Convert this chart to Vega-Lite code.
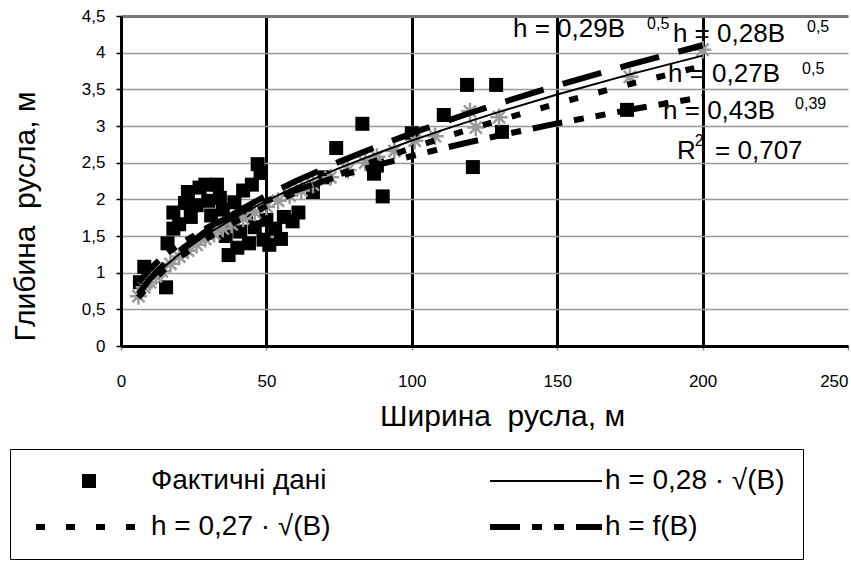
{
  "$schema": "https://vega.github.io/schema/vega-lite/v6.json",
  "width": 727,
  "height": 330,
  "autosize": {"type": "none"},
  "padding": {"left": 121, "top": 16, "right": 3, "bottom": 228},
  "background": "white",
  "config": {"font": "Liberation Sans", "view": {"stroke": null}},
  "datasets": {
    "keys": [
      {"series": "Фактичні дані"}, {"series": "h = 0,28 · √(B)"}, {"series": "h = 0,27 · √(B)"}, {"series": "h = f(B)"}
    ],
    "fact": [
      {"B": 6.5, "h": 0.87}, {"B": 8, "h": 1.08}, {"B": 11, "h": 1.0}, {"B": 15.5, "h": 0.8}, {"B": 16, "h": 1.4},
      {"B": 18, "h": 1.6}, {"B": 18, "h": 1.82}, {"B": 20, "h": 1.66}, {"B": 22, "h": 1.95}, {"B": 23, "h": 2.1},
      {"B": 24, "h": 1.76}, {"B": 26, "h": 1.92}, {"B": 27, "h": 2.16}, {"B": 29, "h": 2.2}, {"B": 30, "h": 1.98},
      {"B": 31, "h": 1.78}, {"B": 33, "h": 2.2}, {"B": 34, "h": 2.02}, {"B": 35, "h": 1.86}, {"B": 36, "h": 1.5},
      {"B": 37, "h": 1.24}, {"B": 38, "h": 1.7}, {"B": 39, "h": 1.96}, {"B": 40, "h": 1.34}, {"B": 41, "h": 1.56},
      {"B": 42, "h": 2.12}, {"B": 43, "h": 1.82}, {"B": 44, "h": 1.4}, {"B": 45, "h": 2.2}, {"B": 46, "h": 1.62},
      {"B": 47, "h": 2.48}, {"B": 48, "h": 2.36}, {"B": 49, "h": 1.45}, {"B": 50, "h": 1.72}, {"B": 51, "h": 1.38},
      {"B": 53, "h": 1.6}, {"B": 55, "h": 1.46}, {"B": 56, "h": 1.76}, {"B": 59, "h": 1.7}, {"B": 61, "h": 1.82},
      {"B": 66, "h": 2.1}, {"B": 70, "h": 2.3}, {"B": 74, "h": 2.7}, {"B": 83, "h": 3.03}, {"B": 87, "h": 2.35},
      {"B": 88, "h": 2.46}, {"B": 90, "h": 2.04}, {"B": 100, "h": 2.9}, {"B": 111, "h": 3.15}, {"B": 119, "h": 3.56},
      {"B": 121, "h": 2.44}, {"B": 129, "h": 3.56}, {"B": 131, "h": 2.92}, {"B": 174, "h": 3.22}
    ],
    "stars": [
      {"B": 6, "h": 0.68}, {"B": 8, "h": 0.8}, {"B": 10, "h": 0.87}, {"B": 12, "h": 0.95}, {"B": 14, "h": 1.02},
      {"B": 17, "h": 1.12}, {"B": 20, "h": 1.22}, {"B": 23, "h": 1.3}, {"B": 26, "h": 1.38}, {"B": 29, "h": 1.46},
      {"B": 32, "h": 1.53}, {"B": 35, "h": 1.6}, {"B": 38, "h": 1.66}, {"B": 42, "h": 1.74}, {"B": 46, "h": 1.82},
      {"B": 50, "h": 1.9}, {"B": 54, "h": 1.98}, {"B": 58, "h": 2.05}, {"B": 62, "h": 2.12}, {"B": 66, "h": 2.2},
      {"B": 72, "h": 2.3}, {"B": 78, "h": 2.4}, {"B": 84, "h": 2.5}, {"B": 88, "h": 2.58}, {"B": 94, "h": 2.66},
      {"B": 101, "h": 2.8}, {"B": 108, "h": 2.86}, {"B": 120, "h": 3.2}, {"B": 122, "h": 2.98}, {"B": 130, "h": 3.12},
      {"B": 175, "h": 3.67}, {"B": 200, "h": 4.04}
    ],
    "c29": [
      {"B": 6, "h": 0.71}, {"B": 10, "h": 0.917}, {"B": 15, "h": 1.123}, {"B": 20, "h": 1.297}, {"B": 30, "h": 1.588},
      {"B": 40, "h": 1.834}, {"B": 50, "h": 2.051}, {"B": 60, "h": 2.246}, {"B": 75, "h": 2.511}, {"B": 90, "h": 2.751},
      {"B": 100, "h": 2.9}, {"B": 110, "h": 3.042}, {"B": 120, "h": 3.177}, {"B": 130, "h": 3.307}, {"B": 150, "h": 3.552},
      {"B": 175, "h": 3.836}, {"B": 200, "h": 4.101}
    ],
    "c28": [
      {"B": 6, "h": 0.686}, {"B": 10, "h": 0.885}, {"B": 15, "h": 1.084}, {"B": 20, "h": 1.252}, {"B": 30, "h": 1.534},
      {"B": 40, "h": 1.771}, {"B": 50, "h": 1.98}, {"B": 60, "h": 2.169}, {"B": 75, "h": 2.425}, {"B": 90, "h": 2.656},
      {"B": 100, "h": 2.8}, {"B": 110, "h": 2.937}, {"B": 120, "h": 3.067}, {"B": 130, "h": 3.192}, {"B": 150, "h": 3.429},
      {"B": 175, "h": 3.704}, {"B": 200, "h": 3.96}
    ],
    "c27": [
      {"B": 6, "h": 0.661}, {"B": 10, "h": 0.854}, {"B": 15, "h": 1.046}, {"B": 20, "h": 1.207}, {"B": 30, "h": 1.479},
      {"B": 40, "h": 1.708}, {"B": 50, "h": 1.909}, {"B": 60, "h": 2.091}, {"B": 75, "h": 2.338}, {"B": 90, "h": 2.561},
      {"B": 100, "h": 2.7}, {"B": 110, "h": 2.832}, {"B": 120, "h": 2.958}, {"B": 130, "h": 3.078}, {"B": 150, "h": 3.307},
      {"B": 175, "h": 3.572}, {"B": 200, "h": 3.818}
    ],
    "cf": [
      {"B": 6, "h": 0.865}, {"B": 10, "h": 1.056}, {"B": 15, "h": 1.236}, {"B": 20, "h": 1.383}, {"B": 30, "h": 1.62},
      {"B": 40, "h": 1.813}, {"B": 50, "h": 1.978}, {"B": 60, "h": 2.123}, {"B": 75, "h": 2.316}, {"B": 90, "h": 2.487},
      {"B": 100, "h": 2.591}, {"B": 110, "h": 2.689}, {"B": 120, "h": 2.782}, {"B": 130, "h": 2.87}, {"B": 150, "h": 3.035},
      {"B": 175, "h": 3.222}, {"B": 200, "h": 3.394}
    ],
    "ann": [
      {"B": 134.8, "h": 4.32, "label": "h = 0,29B"},
      {"B": 189.8, "h": 4.25, "label": "h = 0,28B"},
      {"B": 188.1, "h": 3.71, "label": "h = 0,27B"},
      {"B": 186.4, "h": 3.2, "label": "h = 0,43B"},
      {"B": 191.2, "h": 2.66, "label": "R"},
      {"B": 204.3, "h": 2.66, "label": "= 0,707"}
    ],
    "sup": [
      {"B": 180.9, "h": 4.39, "label": "0,5"},
      {"B": 235.9, "h": 4.35, "label": "0,5"},
      {"B": 234.2, "h": 3.78, "label": "0,5"},
      {"B": 231.8, "h": 3.3, "label": "0,39"},
      {"B": 197.3, "h": 2.8, "label": "2"}
    ]
  },
  "encoding": {
    "x": {
      "field": "B", "type": "quantitative",
      "scale": {"domain": [0, 250], "nice": false, "zero": false},
      "axis": {
        "values": [0, 50, 100, 150, 200, 250], "format": "d",
        "title": "Ширина\u00a0 русла, м", "titleFontSize": 30, "titleFontWeight": "normal", "titleColor": "black",
        "titleX": 381, "titleY": 70, "titleBaseline": "middle",
        "labelFontSize": 17, "labelColor": "black", "labelPadding": 23,
        "labelAlign": {"condition": {"test": "datum.value === 250", "value": "right"}, "value": "center"},
        "tickSize": 4, "tickColor": "#888", "tickWidth": 1.5,
        "domainColor": "black", "domainWidth": 3,
        "grid": true, "gridColor": "black", "gridWidth": 3,
        "gridOpacity": {"condition": {"test": "datum.value === 0 || datum.value === 250", "value": 0}, "value": 1}
      }
    },
    "y": {
      "field": "h", "type": "quantitative",
      "scale": {"domain": [0, 4.5], "nice": false},
      "axis": {
        "values": [0, 0.5, 1, 1.5, 2, 2.5, 3, 3.5, 4, 4.5],
        "labelExpr": "replace(format(datum.value, '~g'), '.', ',')",
        "title": "Глибина\u00a0 русла, м", "titleFontSize": 30, "titleFontWeight": "normal", "titleColor": "black",
        "titleX": -96, "titleY": 200, "titleBaseline": "middle",
        "labelFontSize": 17, "labelColor": "black", "labelPadding": 11,
        "tickSize": 5, "tickColor": "black", "tickWidth": 1.5,
        "domainColor": "black", "domainWidth": 3,
        "grid": true,
        "gridColor": {"condition": {"test": "datum.value === 4.5", "value": "#777"}, "value": "#999"},
        "gridWidth": {"condition": {"test": "datum.value === 4.5", "value": 3}, "value": 1.5}
      }
    }
  },
  "layer": [
    {
      "data": {"name": "fact"},
      "mark": {"type": "point", "shape": "square", "filled": true, "size": 196, "color": "black", "opacity": 1}
    },
    {
      "data": {"name": "stars"},
      "mark": {"type": "point", "shape": "M-1,0H1M0,-1V1M-0.7,-0.7L0.7,0.7M-0.7,0.7L0.7,-0.7", "filled": false, "size": 300, "stroke": "#9a9a9a", "strokeWidth": 2.5, "opacity": 1}
    },
    {
      "data": {"name": "c29"},
      "mark": {"type": "line", "color": "black", "strokeWidth": 6, "strokeDash": [40, 20]},
      "encoding": {}
    },
    {
      "data": {"name": "cf"},
      "mark": {"type": "line", "color": "black", "strokeWidth": 6, "strokeDash": [30, 12, 10, 12, 10, 12]},
      "encoding": {}
    },
    {
      "data": {"name": "c27"},
      "mark": {"type": "line", "color": "black", "strokeWidth": 6, "strokeDash": [9, 21]},
      "encoding": {}
    },
    {
      "data": {"name": "c28"},
      "mark": {"type": "line", "color": "black", "strokeWidth": 2},
      "encoding": {}
    },
    {
      "data": {"name": "ann"},
      "mark": {"type": "text", "align": "left", "baseline": "middle", "fontSize": 26, "color": "black"},
      "encoding": {"text": {"field": "label"}}
    },
    {
      "data": {"name": "sup"},
      "mark": {"type": "text", "align": "left", "baseline": "middle", "fontSize": 16, "color": "black"},
      "encoding": {"text": {"field": "label"}}
    },
    {
      "data": {"name": "keys"},
      "mark": {"type": "point", "filled": false, "fill": "black", "opacity": 1},
      "encoding": {
        "color": {
          "field": "series", "type": "nominal",
          "scale": {"domain": ["Фактичні дані", "h = 0,28 · √(B)", "h = 0,27 · √(B)", "h = f(B)"], "range": ["black", "black", "black", "black"]},
          "legend": {
            "orient": "none", "legendX": -111, "legendY": 433, "columns": 2, "direction": "horizontal", "title": null,
            "labelFontSize": 28, "labelColor": "black", "labelLimit": 400, "labelOffset": 95,
            "symbolSize": 400, "rowPadding": 18, "columnPadding": 147,
            "padding": 18, "strokeColor": "black"
          }
        },
        "shape": {
          "field": "series", "type": "nominal",
          "scale": {"domain": ["Фактичні дані", "h = 0,28 · √(B)", "h = 0,27 · √(B)", "h = f(B)"], "range": ["M4.0,-0.7H5.4V0.7H4.0Z", "M-0.6,0H10.6", "M-0.6,0H10.6", "M-0.6,0H10.6"]}
        },
        "strokeDash": {
          "field": "series", "type": "nominal",
          "scale": {"domain": ["Фактичні дані", "h = 0,28 · √(B)", "h = 0,27 · √(B)", "h = f(B)"], "range": [[1, 0], [1, 0], [9, 21], [30, 12, 10, 12, 10, 12]]}
        },
        "strokeWidth": {
          "field": "series", "type": "nominal",
          "scale": {"type": "ordinal", "domain": ["Фактичні дані", "h = 0,28 · √(B)", "h = 0,27 · √(B)", "h = f(B)"], "range": [0, 2, 6, 6]}
        }
      }
    }
  ]
}
